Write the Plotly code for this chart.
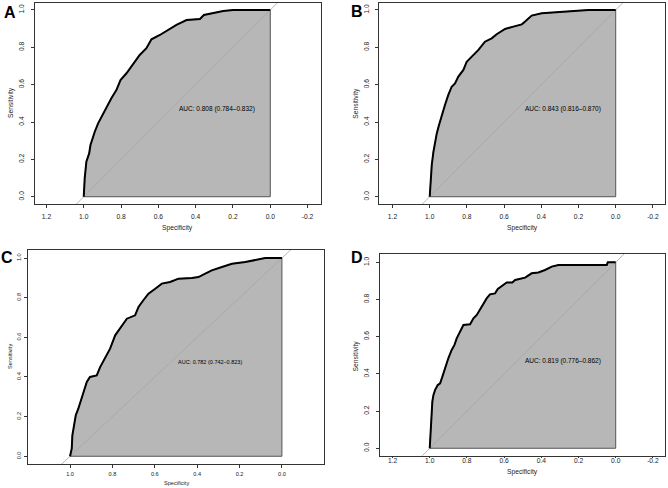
import plotly.graph_objects as go

# ---------------- data ----------------
spec_A = [1.0, 0.995, 0.986, 0.971, 0.964, 0.953, 0.941, 0.923, 0.90, 0.878, 0.852, 0.825, 0.803,
          0.771, 0.735, 0.70, 0.664, 0.637, 0.592, 0.547, 0.503, 0.449, 0.377, 0.356, 0.306, 0.252,
          0.199, 0.0]
sens_A = [0.0, 0.098, 0.188, 0.232, 0.277, 0.313, 0.348, 0.393, 0.438, 0.482, 0.527, 0.571, 0.625,
          0.661, 0.714, 0.759, 0.795, 0.843, 0.866, 0.893, 0.920, 0.946, 0.952, 0.973, 0.982, 0.995,
          1.0, 1.0]

spec_B = [1.0, 0.995, 0.989, 0.980, 0.971, 0.962, 0.950, 0.935, 0.918, 0.900, 0.882, 0.864, 0.846,
          0.819, 0.801, 0.774, 0.738, 0.703, 0.667, 0.640, 0.595, 0.550, 0.505, 0.487, 0.452, 0.398,
          0.308, 0.219, 0.147, 0.0]
sens_B = [0.0, 0.098, 0.170, 0.241, 0.295, 0.339, 0.384, 0.438, 0.491, 0.545, 0.589, 0.607, 0.643,
          0.679, 0.723, 0.750, 0.786, 0.830, 0.848, 0.870, 0.898, 0.911, 0.923, 0.938, 0.970, 0.982,
          0.988, 0.995, 1.0, 1.0]

spec_C = [1.0, 0.992, 0.989, 0.980, 0.973, 0.961, 0.948, 0.937, 0.921, 0.906, 0.874, 0.858, 0.835,
          0.811, 0.787, 0.764, 0.732, 0.693, 0.677, 0.654, 0.630, 0.598, 0.567, 0.528, 0.488, 0.425,
          0.394, 0.362, 0.331, 0.283, 0.236, 0.173, 0.110, 0.079, 0.0]
sens_C = [0.0, 0.039, 0.106, 0.156, 0.207, 0.240, 0.282, 0.324, 0.375, 0.400, 0.408, 0.450, 0.493,
          0.543, 0.610, 0.644, 0.694, 0.711, 0.753, 0.787, 0.820, 0.845, 0.871, 0.879, 0.896, 0.899,
          0.904, 0.921, 0.938, 0.955, 0.971, 0.980, 0.993, 1.0, 1.0]

spec_D = [1.0, 0.995, 0.989, 0.986, 0.980, 0.971, 0.957, 0.944, 0.932, 0.918, 0.900, 0.882, 0.867,
          0.855, 0.837, 0.819, 0.783, 0.765, 0.747, 0.720, 0.694, 0.676, 0.649, 0.634, 0.609, 0.586,
          0.556, 0.541, 0.487, 0.452, 0.416, 0.380, 0.344, 0.308, 0.048, 0.043, 0.0]
sens_D = [0.0, 0.090, 0.179, 0.251, 0.287, 0.314, 0.340, 0.349, 0.385, 0.430, 0.484, 0.529, 0.556,
          0.591, 0.627, 0.663, 0.667, 0.699, 0.717, 0.762, 0.806, 0.828, 0.833, 0.857, 0.875, 0.892,
          0.892, 0.905, 0.918, 0.941, 0.946, 0.959, 0.977, 0.986, 0.986, 1.0, 1.0]

panel_letters = ["A", "B", "C", "D"]
auc_labels = ["AUC: 0.808 (0.784\u20130.832)", "AUC: 0.843 (0.816\u20130.870)",
              "AUC: 0.782 (0.742\u20130.823)", "AUC: 0.819 (0.776\u20130.862)"]
x_ticks_full = [1.2, 1.0, 0.8, 0.6, 0.4, 0.2, 0.0, -0.2]
x_ticks_short = [1.0, 0.8, 0.6, 0.4, 0.2, 0.0]
y_ticks = [0.0, 0.2, 0.4, 0.6, 0.8, 1.0]
x_title = "Specificity"
y_title = "Sensitivity"

# ---------------- layout (pixel geometry) ----------------
W, H = 668, 488
FONT = "Liberation Sans, Arial, sans-serif"
panels = [
    dict(spec=spec_A, sens=sens_A, box=(34.7, 321.0, 2.5, 204.2), xr=[1.263, -0.272], yr=[-0.04, 1.04],
         xt=x_ticks_full, fs=6.7, afs=6.5, xso=3, xtl=3, yso=4, letter=(9.5, 12.5), ytit=(11, 103), xtit=(177, 228)),
    dict(spec=spec_B, sens=sens_B, box=(379.3, 665.0, 2.5, 204.2), xr=[1.271, -0.265], yr=[-0.04, 1.04],
         xt=x_ticks_full, fs=6.7, afs=6.5, xso=3, xtl=3, yso=4, letter=(357, 11.5), ytit=(355.7, 103), xtit=(522, 228)),
    dict(spec=spec_C, sens=sens_C, box=(28.3, 324.3, 250.1, 464.2), xr=[1.197, -0.2], yr=[-0.04, 1.04],
         xt=x_ticks_short, fs=5.6, afs=5.5, xso=1, xtl=3, yso=1, letter=(6.5, 257.5), ytit=(10, 357), xtit=(176, 483)),
    dict(spec=spec_D, sens=sens_D, box=(379.7, 665.0, 254.0, 455.7), xr=[1.269, -0.265], yr=[-0.04, 1.045],
         xt=x_ticks_full, fs=6.7, afs=6.5, xso=-3, xtl=1, yso=4, letter=(356.5, 257.5), ytit=(355.7, 355.7), xtit=(522, 472)),
]

fig = go.Figure()
layout = dict(width=W, height=H, margin=dict(l=0, r=0, t=0, b=0), paper_bgcolor="white",
              plot_bgcolor="white", showlegend=False, font=dict(family=FONT, color="black"))
annotations = []

for i, p in enumerate(panels):
    n = "" if i == 0 else str(i + 1)
    xa, ya = "x" + n, "y" + n
    l, r, t, b = p["box"]
    # AUC polygon
    fig.add_trace(go.Scatter(x=p["spec"] + [0.0, 1.0], y=p["sens"] + [0.0, 0.0], fill="toself",
                             fillcolor="#b7b7b7", line=dict(color="#555555", width=1),
                             mode="lines", hoverinfo="skip", xaxis=xa, yaxis=ya))
    # chance diagonal
    fig.add_trace(go.Scatter(x=[2.0, -1.0], y=[-1.0, 2.0], mode="lines",
                             line=dict(color="#a6a6a6", width=0.8), hoverinfo="skip", xaxis=xa, yaxis=ya))
    # ROC curve
    fig.add_trace(go.Scatter(x=p["spec"], y=p["sens"], mode="lines",
                             line=dict(color="black", width=2), hoverinfo="skip", xaxis=xa, yaxis=ya))
    common = dict(showline=True, linecolor="#333333", linewidth=1, mirror=True, ticks="outside",
                  tickwidth=1, tickcolor="#333333", showgrid=False, zeroline=False,
                  tickfont=dict(size=p["fs"], family=FONT, color="#1a1a1a"), fixedrange=True)
    layout["xaxis" + n] = dict(domain=[l / W, r / W], range=p["xr"], anchor=ya,
                               ticklabelstandoff=p["xso"], ticklen=p["xtl"],
                               tickvals=p["xt"], ticktext=["%.1f" % v for v in p["xt"]], **common)
    layout["yaxis" + n] = dict(domain=[1 - b / H, 1 - t / H], range=p["yr"], anchor=xa,
                               ticklabelstandoff=p["yso"], ticklen=3,
                               tickvals=y_ticks, ticktext=["%.1f" % v for v in y_ticks],
                               tickangle=-90, **common)
    annotations.append(dict(text=auc_labels[i], x=0.5, y=0.5, xref=xa, yref=ya, xanchor="left",
                            yanchor="top", showarrow=False,
                            font=dict(size=p["afs"], family=FONT, color="black")))
    annotations.append(dict(text="<b>%s</b>" % panel_letters[i], x=p["letter"][0] / W,
                            y=1 - p["letter"][1] / H, xref="paper", yref="paper", xanchor="center",
                            yanchor="middle", showarrow=False, font=dict(size=16, family=FONT, color="black")))
    annotations.append(dict(text=x_title, x=p["xtit"][0] / W, y=1 - p["xtit"][1] / H, xref="paper",
                            yref="paper", xanchor="center", yanchor="middle", showarrow=False,
                            font=dict(size=p["fs"], family=FONT, color="#1a1a1a")))
    annotations.append(dict(text=y_title, x=p["ytit"][0] / W, y=1 - p["ytit"][1] / H, xref="paper",
                            yref="paper", xanchor="center", yanchor="middle", showarrow=False,
                            textangle=-90, font=dict(size=p["fs"], family=FONT, color="#1a1a1a")))

layout["annotations"] = annotations
fig.update_layout(**layout)
fig.write_html("out.html", config={"displayModeBar": False},
               post_script="document.body.style.margin='0';document.body.style.padding='0';")
